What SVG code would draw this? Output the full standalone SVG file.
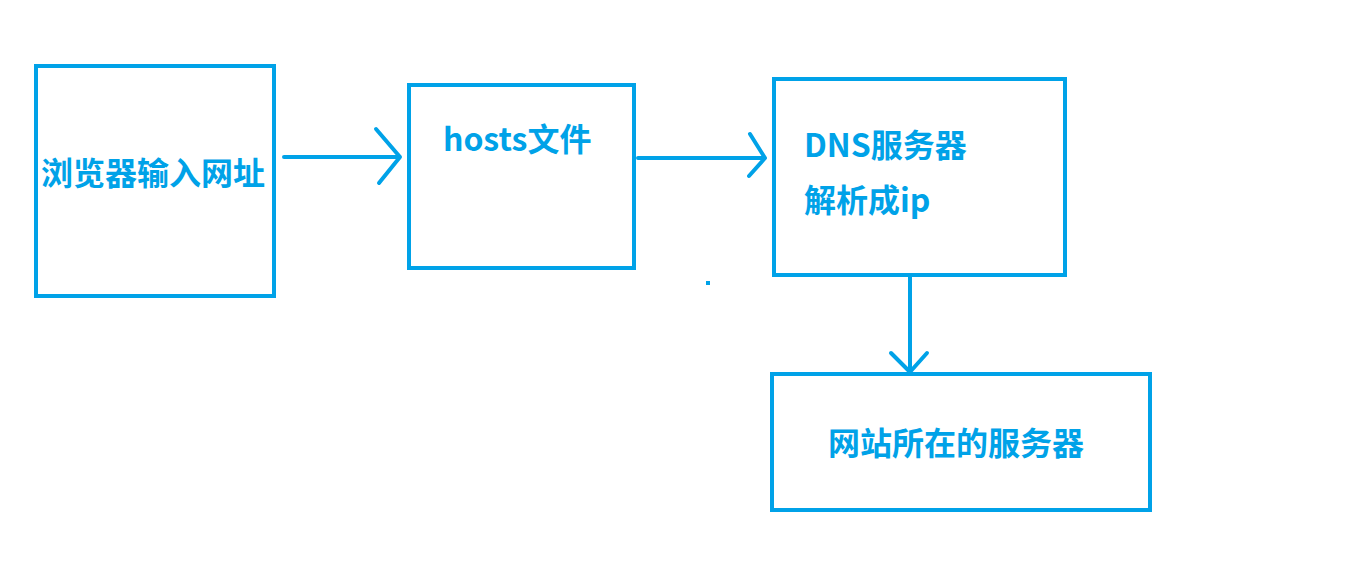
<svg xmlns="http://www.w3.org/2000/svg" width="1359" height="574" viewBox="0 0 1359 574">
<style>
.box{fill:none;stroke:#00a2e8;stroke-width:4}
.ln{fill:none;stroke:#00a2e8;stroke-width:4;stroke-linecap:round;stroke-linejoin:round}
text{font-family:"Noto Sans CJK SC","Microsoft YaHei",sans-serif;font-weight:bold;font-size:32px;fill:#00a2e8}
</style>
<rect width="1359" height="574" fill="#fff"/>
<g id="browser">
<rect class="box" x="36" y="66" width="238" height="230"/>
<text x="41" y="185">浏览器输入网址</text>
</g>
<g id="hosts">
<rect class="box" x="409" y="85" width="225" height="183"/>
<text x="443" y="151">hosts文件</text>
</g>
<g id="dns">
<rect class="box" x="774" y="79" width="291" height="196"/>
<text x="804" y="157">DNS服务器</text>
<text x="804" y="212">解析成ip</text>
</g>
<g id="server">
<rect class="box" x="772" y="374" width="378" height="136"/>
<text x="828" y="455">网站所在的服务器</text>
</g>
<g id="connectors">
<path class="ln" d="M284 157H400M376 129L400 157L379 183"/>
<path class="ln" d="M638 158H765M750 134L765 158L749 176"/>
<path class="ln" d="M910 277V372M891 353L910 372L927 353"/>
</g>
<rect x="706" y="281" width="4" height="4" fill="#00a2e8"/>
</svg>
